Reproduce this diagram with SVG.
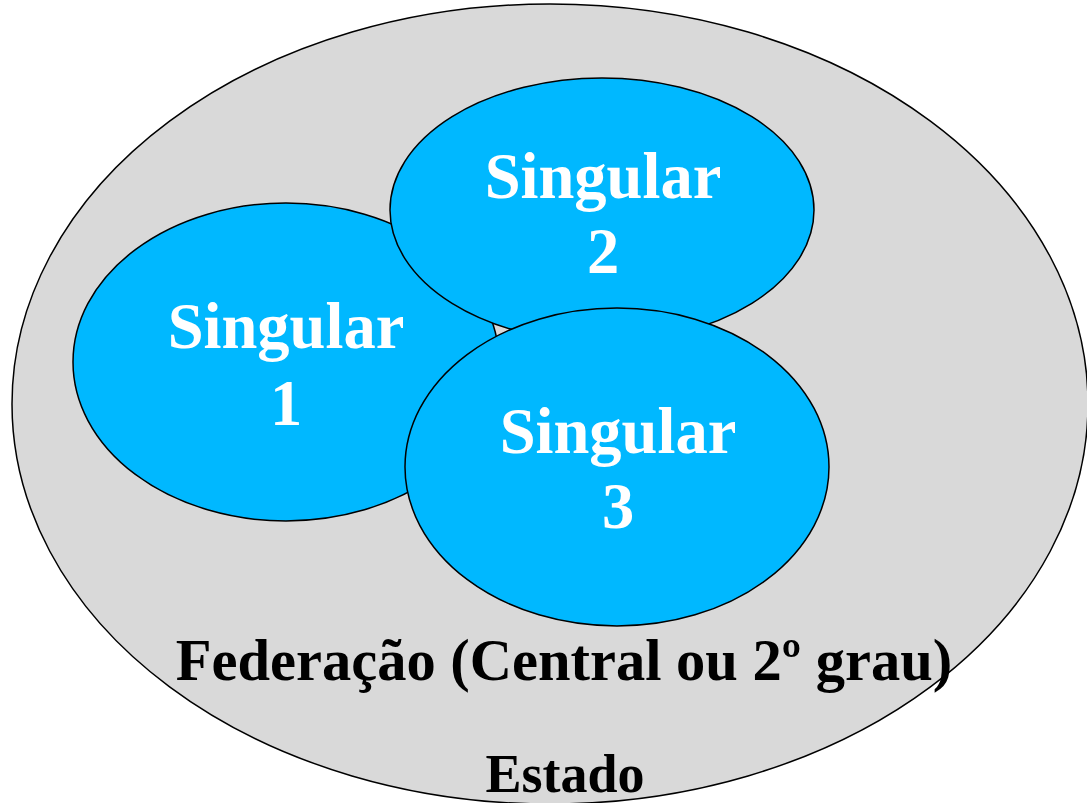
<svg xmlns="http://www.w3.org/2000/svg" width="1087" height="803" viewBox="0 0 1087 803">
<style>
.st{stroke:#000;stroke-width:1.5}
.s{fill:#00b8ff}
.wt{font-family:"Liberation Serif",serif;font-weight:bold;font-size:64.5px;fill:#fff;text-anchor:middle}
.bt{font-family:"Liberation Serif",serif;font-weight:bold;font-size:58.5px;fill:#000;text-anchor:middle}
</style>
<rect width="1087" height="803" fill="#fff"/>
<g id="estado">
<ellipse class="st" cx="550" cy="404" rx="538" ry="400" fill="#d9d9d9"/>
<text class="bt" x="565" y="792" style="font-size:54px">Estado</text>
</g>
<g id="federacao">
<text class="bt" x="564" y="680">Federação (Central ou 2º grau)</text>
</g>
<g id="singular1">
<ellipse class="st s" cx="286" cy="362" rx="213" ry="159"/>
<text class="wt" x="286" y="348">Singular</text>
<text class="wt" x="286" y="425">1</text>
</g>
<g id="singular2">
<ellipse class="st s" cx="602" cy="210" rx="212" ry="132"/>
<text class="wt" x="603" y="198">Singular</text>
<text class="wt" x="603" y="273">2</text>
</g>
<g id="singular3">
<ellipse class="st s" cx="617" cy="467" rx="212" ry="159"/>
<text class="wt" x="618" y="453">Singular</text>
<text class="wt" x="618" y="528">3</text>
</g>
<g id="connectors"/>
</svg>
